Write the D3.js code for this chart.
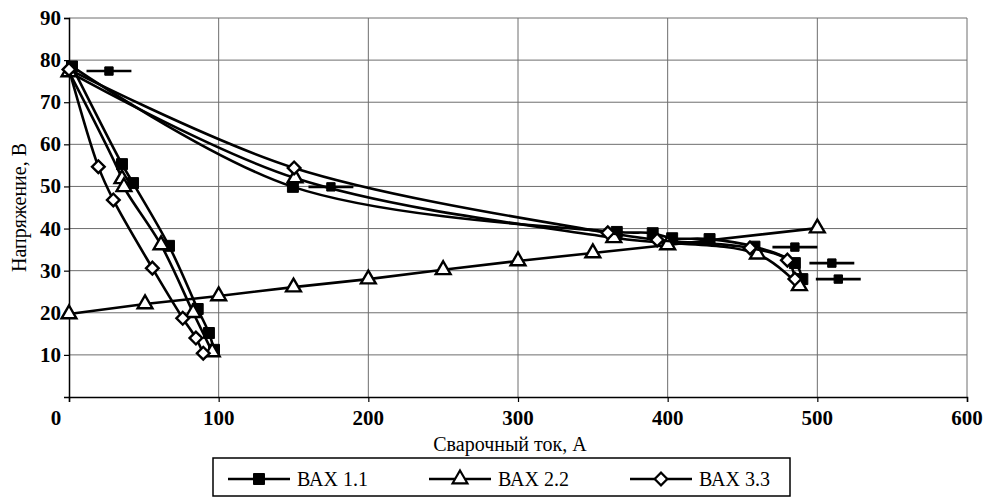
<!DOCTYPE html>
<html>
<head>
<meta charset="UTF-8">
<title>ВАХ</title>
<script src="https://cdnjs.cloudflare.com/ajax/libs/d3/7.8.5/d3.min.js"></script>
<style>
    body { margin: 0; background: #fff; }
    svg { display: block; }
    .grid line { stroke: #6e6e6e; stroke-width: 1; }
</style>
</head>
<body>
<svg width="985" height="497" font-family="Liberation Serif"></svg>
<script>
    // axis ticks
    const xTicks = [0, 100, 200, 300, 400, 500, 600];
    const yTicks = [10, 20, 30, 40, 50, 60, 70, 80, 90];

    // ВАХ 1.1 (filled squares)
    const bax11Steep = [[2, 78.5], [35.4, 55.3], [42.8, 50.8], [66.8, 35.9], [86, 20.9], [93.5, 15.2], [96.9, 11.2]];
    const bax11Gentle = [[2, 78.5], [149.6, 49.9], [366, 39.2], [390, 38.9], [403, 37.7], [428, 37.5], [458, 35.7], [485, 31.8], [490, 28]];
    // stray "—■—" marks next to ВАХ 1.1
    const bax11Marks = [[26.7, 77.4], [175, 49.9], [485, 35.6], [509.7, 31.8], [514, 28]];

    // ВАХ 2.2 (open triangles)
    const bax22Steep = [[0, 77.2], [35.4, 51.8], [36.7, 49.9], [61.5, 36.1], [83, 20], [95.7, 10.7]];
    const bax22Gentle = [[0, 77.2], [151, 52], [364, 37.8], [460, 33.9], [488, 26.4]];
    const bax22Load = [[0, 19.7], [50.8, 22.1], [100, 24], [150, 26.1], [200, 28], [250, 30.2], [300, 32.3], [350, 34.2], [400, 36.1], [500, 40.1]];

    // ВАХ 3.3 (open diamonds)
    const bax33Steep = [[0, 77.8], [19.6, 54.7], [29.6, 46.8], [55.7, 30.6], [76, 18.7], [84.8, 14], [89.7, 10.4]];
    const bax33Gentle = [[0, 77.8], [150.4, 54.4], [360, 39], [393, 37.3], [455, 35.4], [480, 32.5], [485, 28]];

    const legendNames = ["ВАХ 1.1", "ВАХ 2.2", "ВАХ 3.3"];

    const svg = d3.select("svg");
    const x = d3.scaleLinear().domain([0, 600]).range([69, 967]);
    const y = d3.scaleLinear().domain([0, 90]).range([397, 18]);

    function label(sel, size, bold) {
        return sel.attr("font-family", "Liberation Serif")
            .style("font-family", '"Liberation Serif", "Tinos", "Times New Roman", serif')
            .style("font-size", size + "px")
            .style("font-weight", bold ? "bold" : "normal");
    }

    // grid
    const grid = svg.append("g").attr("class", "grid");
    grid.selectAll(".v").data(xTicks.slice(1)).enter().append("line")
        .attr("x1", d => x(d)).attr("x2", d => x(d))
        .attr("y1", y(0)).attr("y2", y(90));
    grid.selectAll(".h").data(yTicks).enter().append("line")
        .attr("x1", x(0)).attr("x2", x(600))
        .attr("y1", d => y(d)).attr("y2", d => y(d));

    // axes
    const xAxis = svg.append("g").attr("transform", `translate(0,${y(0)})`)
        .call(d3.axisBottom(x).tickValues(xTicks).tickSize(5).tickFormat(""));
    const yAxis = svg.append("g").attr("transform", `translate(${x(0)},0)`)
        .call(d3.axisLeft(y).tickValues(yTicks).tickSize(5).tickFormat(""));
    [xAxis, yAxis].forEach(a => {
        a.select(".domain").attr("stroke", "#000").attr("stroke-width", 1.5);
        a.selectAll(".tick line").attr("stroke", "#000").attr("stroke-width", 1.2);
    });

    label(svg.append("g").selectAll("text").data(xTicks).enter().append("text"), 21, true)
        .attr("x", d => d === 0 ? x(d) - 13 : x(d))
        .attr("y", 425)
        .attr("text-anchor", "middle")
        .text(d => d);
    label(svg.append("g").selectAll("text").data(yTicks).enter().append("text"), 21, true)
        .attr("x", 61)
        .attr("y", d => y(d) + 7)
        .attr("text-anchor", "end")
        .text(d => d);

    label(svg.append("text"), 20, false)
        .attr("transform", `translate(26,${(y(0) + y(90)) / 2}) rotate(-90)`)
        .attr("text-anchor", "middle")
        .text("Напряжение, В");
    label(svg.append("text"), 20, false)
        .attr("x", 510).attr("y", 451)
        .attr("text-anchor", "middle")
        .text("Сварочный ток, А");

    const smooth = d3.line().x(d => x(d[0])).y(d => y(d[1])).curve(d3.curveCatmullRom);
    const straight = d3.line().x(d => x(d[0])).y(d => y(d[1]));

    const square = d3.symbol().type(d3.symbolSquare).size(120)();
    const smallSquare = d3.symbol().type(d3.symbolSquare).size(70)();
    const triangle = d3.symbol().type(d3.symbolTriangle).size(95)();
    const diamond = d3.symbol().type(d3.symbolSquare).size(80)();

    function drawLines(branches, lineGen) {
        branches.forEach(b => {
            svg.append("path").datum(b)
                .attr("d", lineGen)
                .attr("fill", "none")
                .attr("stroke", "#000")
                .attr("stroke-width", 2.6);
        });
    }

    function drawMarkers(points, shape, fill, rot) {
        svg.append("g").selectAll("path").data(points).enter().append("path")
            .attr("d", shape)
            .attr("transform", d => `translate(${x(d[0])},${y(d[1])}) rotate(${rot})`)
            .attr("fill", fill)
            .attr("stroke", "#000")
            .attr("stroke-width", fill === "#000" ? 1 : 2.4);
    }

    // ВАХ 1.1
    drawLines([bax11Steep, bax11Gentle], smooth);
    drawMarkers([...bax11Steep, ...bax11Gentle.slice(1)], square, "#000", 0);
    svg.append("g").selectAll("line").data(bax11Marks).enter().append("line")
        .attr("x1", d => x(d[0] - 15)).attr("x2", d => x(d[0] + 15))
        .attr("y1", d => y(d[1])).attr("y2", d => y(d[1]))
        .attr("stroke", "#000").attr("stroke-width", 2.6);
    drawMarkers(bax11Marks, smallSquare, "#000", 0);

    // ВАХ 2.2
    drawLines([bax22Steep, bax22Gentle], smooth);
    drawLines([bax22Load], straight);
    drawMarkers([...bax22Steep, ...bax22Gentle.slice(1), ...bax22Load], triangle, "#fff", 0);

    // ВАХ 3.3
    drawLines([bax33Steep, bax33Gentle], smooth);
    drawMarkers([...bax33Steep, ...bax33Gentle.slice(1)], diamond, "#fff", 45);

    // legend
    const legend = svg.append("g");
    legend.append("rect")
        .attr("x", 213).attr("y", 458).attr("width", 577).attr("height", 38)
        .attr("fill", "#fff").attr("stroke", "#000").attr("stroke-width", 1.5);
    const legX = [228, 429, 630];
    const legShapes = [[square, "#000", 0], [triangle, "#fff", 0], [diamond, "#fff", 45]];
    legendNames.forEach((name, i) => {
        const lx = legX[i];
        legend.append("line")
            .attr("x1", lx).attr("x2", lx + 62).attr("y1", 479).attr("y2", 479)
            .attr("stroke", "#000").attr("stroke-width", 2.6);
        legend.append("path")
            .attr("d", legShapes[i][0])
            .attr("transform", `translate(${lx + 31},479) rotate(${legShapes[i][2]})`)
            .attr("fill", legShapes[i][1])
            .attr("stroke", "#000")
            .attr("stroke-width", legShapes[i][1] === "#000" ? 1 : 2.2);
        label(legend.append("text"), 20, false)
            .attr("x", lx + 69).attr("y", 486)
            .text(name);
    });
</script>
</body>
</html>
